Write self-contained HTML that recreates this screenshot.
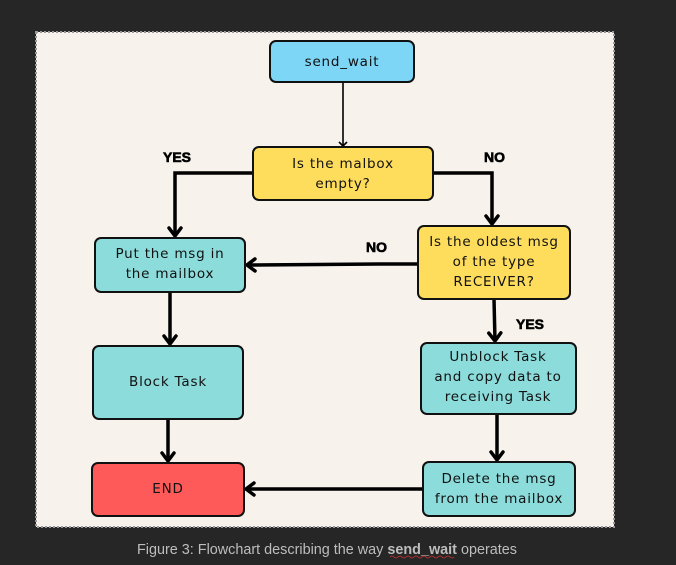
<!DOCTYPE html>
<html><head><meta charset="utf-8"><style>
html,body{margin:0;padding:0;background:#262626;width:676px;height:565px;overflow:hidden}
svg{display:block}
.b{font-family:"DejaVu Sans","Liberation Sans",sans-serif;font-size:13.5px;fill:#111;letter-spacing:0.8px}
.l{font-family:"Liberation Sans",sans-serif;font-weight:bold;font-size:14px;fill:#000;stroke:#000;stroke-width:0.6}
.c{font-family:"Liberation Sans",sans-serif;font-size:14.4px;fill:#bdbdbd}
</style></head><body>
<svg width="676" height="565" viewBox="0 0 676 565">
<rect x="36" y="32" width="578" height="495" fill="#f7f3ec" stroke="#999" stroke-width="2" stroke-dasharray="2,2"/>
<defs>
<marker id="a" markerWidth="10" markerHeight="10" refX="5" refY="5" orient="auto" markerUnits="userSpaceOnUse" viewBox="0 0 10 10"><path d="M1,1 L5,5 L1,9" fill="none" stroke="#000" stroke-width="1.6"/></marker>
<marker id="A" markerWidth="16" markerHeight="16" refX="12" refY="8" orient="auto" markerUnits="userSpaceOnUse" viewBox="0 0 16 16"><path d="M4,2 L12,8 L4,14" fill="none" stroke="#000" stroke-width="3.5" stroke-linecap="round"/></marker>
</defs>
<g fill="none" stroke="#000">
<path d="M343,82 V146" stroke-width="1.6" marker-end="url(#a)"/>
<g stroke-width="3.5">
<path d="M253,173 H175 V236" marker-end="url(#A)"/>
<path d="M433,173 H492 V224" marker-end="url(#A)"/>
<path d="M418,264 H380 L247,265" marker-end="url(#A)"/>
<path d="M170,292 V344" marker-end="url(#A)"/>
<path d="M168,419 V461" marker-end="url(#A)"/>
<path d="M494,299 L495,341" marker-end="url(#A)"/>
<path d="M497,414 V460" marker-end="url(#A)"/>
<path d="M423,489 H246" marker-end="url(#A)"/>
</g>
</g>
<g stroke="#111" stroke-width="2">
<rect x="270" y="41" width="144" height="41" rx="6" fill="#7dd6f6"/>
<rect x="253" y="147" width="180" height="53" rx="6" fill="#ffdd5c"/>
<rect x="95" y="238" width="150" height="54" rx="6" fill="#8cdcdb"/>
<rect x="418" y="226" width="152" height="73" rx="6" fill="#ffdd5c"/>
<rect x="93" y="346" width="150" height="73" rx="6" fill="#8cdcdb"/>
<rect x="421" y="343" width="155" height="71" rx="6" fill="#8cdcdb"/>
<rect x="92" y="463" width="152" height="53" rx="6" fill="#ff5a5a"/>
<rect x="423" y="462" width="152" height="54" rx="6" fill="#8cdcdb"/>
</g>
<g class="b" text-anchor="middle">
<text x="342" y="66">send_wait</text>
<text x="343" y="168">Is the malbox</text>
<text x="343" y="188">empty?</text>
<text x="170" y="258">Put the msg in</text>
<text x="170" y="278">the mailbox</text>
<text x="494" y="246">Is the oldest msg</text>
<text x="494" y="266">of the type</text>
<text x="494" y="286">RECEIVER?</text>
<text x="168" y="386">Block Task</text>
<text x="498" y="361">Unblock Task</text>
<text x="498" y="381">and copy data to</text>
<text x="498" y="401">receiving Task</text>
<text x="168" y="493">END</text>
<text x="499" y="483">Delete the msg</text>
<text x="499" y="503">from the mailbox</text>
</g>
<text class="l" x="163" y="162">YES</text>
<text class="l" x="484" y="162">NO</text>
<text class="l" x="366" y="252">NO</text>
<text class="l" x="516" y="329">YES</text>
<text class="c" x="327" y="554" text-anchor="middle">Figure 3: Flowchart describing the way <tspan font-weight="bold">send_wait</tspan> operates</text>
<path d="M390,557 q2,-2 4,0 t4,0 t4,0 t4,0 t4,0 t4,0 t4,0 t4,0 t4,0 t4,0 t4,0 t4,0 t4,0 t4,0 t4,0 t4,0" fill="none" stroke="#c33" stroke-width="0.8"/>
</svg>
</body></html>
